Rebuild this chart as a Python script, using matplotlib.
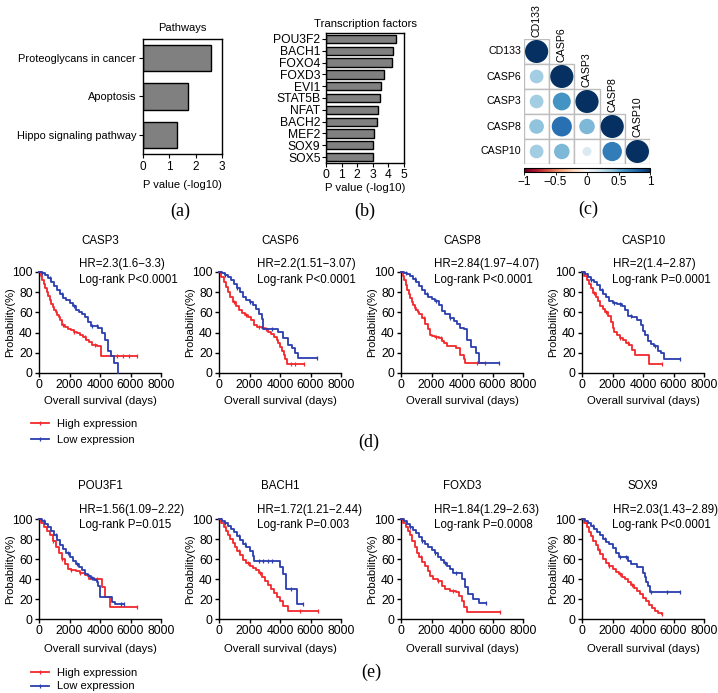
import numpy as np
import matplotlib
matplotlib.use('Agg')
import matplotlib.pyplot as plt
from matplotlib.patches import Circle, Rectangle
from matplotlib.lines import Line2D
from matplotlib import colors, colorbar

plt.rcParams['font.family'] = ['Liberation Sans', 'DejaVu Sans']
plt.rcParams['axes.linewidth'] = 1.0

# ---- data -------------------------------------------------------------
pathways = ['Proteoglycans in cancer', 'Apoptosis', 'Hippo signaling pathway']
pathway_p = [2.6, 1.7, 1.3]

tfs = ['POU3F2', 'BACH1', 'FOXO4', 'FOXD3', 'EVI1', 'STAT5B', 'NFAT',
       'BACH2', 'MEF2', 'SOX9', 'SOX5']
tf_p = [4.5, 4.3, 4.25, 3.75, 3.55, 3.45, 3.35, 3.3, 3.1, 3.0, 3.0]

corr_genes = ['CD133', 'CASP6', 'CASP3', 'CASP8', 'CASP10']
corr_lower = [[1.0],
              [0.35, 1.0],
              [0.35, 0.6, 1.0],
              [0.4, 0.75, 0.45, 1.0],
              [0.35, 0.45, 0.15, 0.7, 1.0]]

# survival curves: (days, survival %) step knots
casp3_high = ([0, 100, 200, 300, 400, 500, 600, 700, 800, 900, 1000, 1100, 1200, 1300, 1400, 1500,
               1700, 1900, 2100, 2300, 2500, 2700, 2900, 3100, 3300, 3500, 3800, 4050, 6450],
              [100, 96, 92, 88, 84, 80, 76, 72, 68, 65, 62, 60, 57, 55, 52, 48,
               46, 44, 43, 41, 40, 38, 36, 33, 31, 28, 27, 17, 17])
casp3_low = ([0, 200, 400, 600, 800, 1000, 1200, 1400, 1600, 1800, 2000, 2200, 2400, 2600, 2800,
              3000, 3200, 3400, 3900, 4100, 4300, 4500, 4700, 4900, 5150],
             [100, 99, 97, 94, 90, 86, 82, 78, 74, 72, 69, 66, 62, 60, 58,
              55, 50, 47, 45, 40, 33, 22, 17, 10, 0])
casp6_high = ([0, 150, 300, 450, 600, 750, 900, 1100, 1300, 1500, 1700, 1900, 2100, 2300, 2500,
               2800, 3000, 3200, 3400, 3600, 3800, 3900, 4000, 4150, 4250, 4350, 4450, 5550],
              [100, 95, 90, 85, 80, 75, 70, 66, 62, 59, 57, 55, 52, 48, 46,
               45, 44, 41, 39, 36, 33, 30, 26, 22, 18, 14, 9, 9])
casp6_low = ([0, 200, 400, 600, 800, 1000, 1200, 1400, 1600, 1800, 2000, 2200, 2400, 2600, 2800,
              2900, 3900, 4200, 4500, 4800, 5000, 5200, 6450],
             [100, 99, 97, 95, 92, 88, 84, 80, 75, 72, 70, 67, 63, 58, 53,
              44, 41, 35, 28, 25, 20, 15, 15])
casp8_high = ([0, 100, 200, 300, 400, 500, 600, 700, 800, 900, 1000, 1100, 1200, 1400, 1600,
               1800, 1900, 2000, 2200, 2500, 2700, 2800, 3000, 3300, 3600, 3900, 4100, 4200, 5500],
              [100, 96, 92, 87, 82, 78, 74, 70, 67, 64, 62, 60, 58, 54, 49,
               44, 38, 37, 36, 35, 32, 30, 27, 27, 25, 18, 14, 10, 10])
casp8_low = ([0, 200, 400, 600, 800, 1000, 1200, 1400, 1600, 1800, 2000, 2200, 2500, 2700, 2900,
              3200, 3500, 3700, 3900, 4100, 4300, 4600, 4900, 5100, 6450],
             [100, 99, 98, 96, 93, 90, 86, 82, 78, 75, 73, 71, 67, 61, 58,
              54, 51, 49, 45, 44, 33, 26, 20, 10, 10])
casp10_high = ([0, 150, 300, 450, 600, 750, 900, 1050, 1200, 1350, 1500, 1700, 1900, 2000, 2100,
                2300, 2500, 2700, 2900, 3100, 3300, 3500, 4400, 5250],
               [100, 96, 92, 88, 84, 79, 75, 71, 66, 63, 60, 56, 50, 45, 41,
                38, 35, 33, 30, 28, 23, 18, 9, 9])
casp10_low = ([0, 200, 400, 600, 800, 1000, 1200, 1400, 1600, 1800, 2000, 2300, 2600, 2800, 3000,
               3300, 3600, 3900, 4000, 4100, 4300, 4500, 4700, 5000, 5200, 5400, 6450],
              [100, 98, 95, 92, 90, 87, 82, 78, 75, 71, 69, 68, 66, 62, 56,
               55, 52, 48, 42, 38, 32, 29, 27, 22, 20, 14, 14])
pou3f1_high = ([0, 150, 300, 500, 700, 900, 1100, 1300, 1500, 1700, 1900, 2100, 2400, 2700, 3000,
                3300, 4100, 4300, 4650, 6450],
               [100, 96, 92, 88, 84, 78, 72, 66, 60, 55, 50, 49, 48, 46, 44,
                40, 32, 22, 12, 12])
pou3f1_low = ([0, 200, 400, 600, 800, 1000, 1200, 1400, 1600, 1800, 2000, 2200, 2400, 2600, 2800,
               3000, 3200, 3400, 3600, 3800, 3900, 4000, 4800, 5000, 5550],
              [100, 98, 95, 92, 88, 84, 79, 74, 70, 66, 62, 58, 55, 52, 49,
               45, 43, 41, 39, 37, 33, 22, 17, 15, 15])
bach1_high = ([0, 150, 300, 450, 600, 750, 900, 1050, 1200, 1400, 1600, 1800, 2000, 2200, 2400,
               2600, 2800, 3000, 3200, 3400, 3600, 3800, 4000, 4200, 4500, 6500],
              [100, 96, 92, 88, 84, 80, 76, 72, 68, 64, 59, 56, 53, 51, 49,
               46, 42, 38, 34, 30, 26, 22, 18, 13, 8, 8])
bach1_low = ([0, 200, 400, 600, 800, 1000, 1200, 1400, 1600, 1800, 2000, 2200, 2300, 4000, 4200,
              4400, 5100, 5500],
             [100, 98, 96, 93, 90, 87, 83, 79, 75, 72, 68, 63, 58, 52, 45,
              30, 15, 15])
foxd3_high = ([0, 150, 300, 450, 600, 750, 900, 1050, 1200, 1400, 1600, 1800, 1900, 2100, 2400,
               2700, 2900, 3200, 3600, 3800, 4000, 4150, 4300, 6500],
              [100, 96, 92, 88, 84, 78, 72, 66, 62, 57, 53, 48, 43, 40, 38,
               33, 30, 28, 27, 23, 18, 12, 7, 7])
foxd3_low = ([0, 200, 400, 600, 800, 1000, 1200, 1400, 1600, 1800, 2000, 2200, 2400, 2600, 2800,
              3000, 3200, 3400, 4000, 4200, 4400, 4700, 5100, 5550],
             [100, 98, 95, 92, 89, 86, 82, 78, 75, 72, 69, 66, 62, 59, 56,
              53, 50, 46, 40, 32, 25, 20, 16, 16])
sox9_high = ([0, 150, 300, 450, 600, 750, 900, 1050, 1200, 1400, 1600, 1800, 2000, 2200, 2400,
              2600, 2800, 3000, 3200, 3400, 3600, 3800, 4000, 4200, 4400, 4600, 4800, 5000, 5250],
             [100, 96, 92, 87, 83, 78, 74, 69, 65, 60, 56, 53, 50, 47, 45,
              42, 40, 37, 34, 31, 28, 25, 21, 18, 14, 11, 8, 6, 5])
sox9_low = ([0, 200, 400, 600, 800, 1000, 1200, 1400, 1600, 1800, 2000, 2200, 2400, 2800, 3000,
             3200, 3600, 4000, 4100, 4200, 4300, 4450, 6450],
            [100, 98, 96, 93, 90, 87, 84, 80, 77, 75, 71, 66, 62, 62, 58,
             55, 52, 46, 42, 37, 33, 27, 27])

# censored times
cens_high = {'CASP3': [1600, 2300, 3000, 3700, 5100, 5500, 5900, 6450],
             'CASP6': [1000, 1800, 2600, 3100, 4700, 5000, 5550],
             'CASP8': [900, 1500, 2300, 2600, 5000, 5500],
             'CASP10': [800, 1600, 2500, 3000, 5250],
             'POU3F1': [900, 1500, 2100, 2700, 3800, 6450],
             'BACH1': [1300, 1900, 2700, 5300, 6500],
             'FOXD3': [1300, 2400, 3400, 6500],
             'SOX9': [1100, 1800, 2500, 3300, 5250]}
cens_low = {'CASP3': [200, 700, 1500, 2300, 3500, 3800],
            'CASP6': [400, 1200, 2000, 3500, 6450],
            'CASP8': [300, 900, 1700, 2300, 3200, 6450],
            'CASP10': [600, 1300, 2100, 2500, 3200, 4800, 6450],
            'POU3F1': [300, 1100, 1900, 2500, 3500, 5400, 5550],
            'BACH1': [400, 1300, 1700, 2600, 2900, 3200, 3500, 4700, 5500],
            'FOXD3': [600, 1400, 2200, 2900, 3600, 5550],
            'SOX9': [700, 1500, 2500, 2900, 4500, 5600, 6450]}

genes_d = ['CASP3', 'CASP6', 'CASP8', 'CASP10']
hr_d = ['HR=2.3(1.6\u22123.3)', 'HR=2.2(1.51\u22123.07)', 'HR=2.84(1.97\u22124.07)', 'HR=2(1.4\u22122.87)']
p_d = ['Log-rank P<0.0001', 'Log-rank P<0.0001', 'Log-rank P<0.0001', 'Log-rank P=0.0001']
curves_d = [(casp3_high, casp3_low), (casp6_high, casp6_low),
            (casp8_high, casp8_low), (casp10_high, casp10_low)]

genes_e = ['POU3F1', 'BACH1', 'FOXD3', 'SOX9']
hr_e = ['HR=1.56(1.09\u22122.22)', 'HR=1.72(1.21\u22122.44)', 'HR=1.84(1.29\u22122.63)', 'HR=2.03(1.43\u22122.89)']
p_e = ['Log-rank P=0.015', 'Log-rank P=0.003', 'Log-rank P=0.0008', 'Log-rank P<0.0001']
curves_e = [(pou3f1_high, pou3f1_low), (bach1_high, bach1_low),
            (foxd3_high, foxd3_low), (sox9_high, sox9_low)]

# ---- layout helpers ----------------------------------------------------
W, H = 718, 693
RED = '#f2282c'
BLUE = '#2a3eae'
FS = 8.3


def px(l, t, r, b):
    return [l / W, 1 - b / H, (r - l) / W, (b - t) / H]


fig = plt.figure(figsize=(W / 100, H / 100), dpi=100)

# ---- (a) pathways ------------------------------------------------------
ax = fig.add_axes(px(143, 39, 222, 154))
ax.barh(range(len(pathways)), pathway_p, height=0.68, color='#808080',
        edgecolor='black', linewidth=1.0)
ax.set_yticks(range(len(pathways)))
ax.set_yticklabels(pathways, fontsize=7.7)
ax.set_ylim(2.5, -0.5)
ax.set_xlim(0, 3)
ax.set_xticks([0, 1, 2, 3])
ax.tick_params(labelsize=8.5, length=3, width=0.8, pad=2)
ax.tick_params(axis='y', labelsize=7.9)
ax.set_title('Pathways', fontsize=8, pad=6)
ax.set_xlabel('P value (-log10)', fontsize=8, labelpad=5)

# ---- (b) transcription factors -----------------------------------------
ax = fig.add_axes(px(326, 33, 404, 163))
ax.barh(range(len(tfs)), tf_p, height=0.7, color='#808080',
        edgecolor='black', linewidth=1.0)
ax.set_yticks(range(len(tfs)))
ax.set_yticklabels(tfs)
ax.set_ylim(len(tfs) - 0.5, -0.5)
ax.set_xlim(0, 5)
ax.set_xticks(range(6))
ax.tick_params(labelsize=8.7, length=3, width=0.8, pad=1)
ax.set_title('Transcription factors', fontsize=8.2, pad=4)
ax.set_xlabel('P value (-log10)', fontsize=8.2, labelpad=2)

# ---- (c) correlation ---------------------------------------------------
ax = fig.add_axes(px(524, 39, 650, 164))
cmap = plt.get_cmap('RdBu')
norm = colors.Normalize(-1, 1)
n = len(corr_genes)
for i, row in enumerate(corr_lower):
    for j, r in enumerate(row):
        ax.add_patch(Rectangle((j, i), 1, 1, facecolor='white',
                               edgecolor='#bdbdbd', linewidth=1.0))
        ax.add_patch(Circle((j + 0.5, i + 0.5), 0.46 * np.sqrt(abs(r)),
                            facecolor=cmap(norm(r)), edgecolor='none'))
    ax.text(-0.12, i + 0.5, corr_genes[i], ha='right', va='center', fontsize=7.7)
    ax.text(i + 0.5, i - 0.08, corr_genes[i], ha='center', va='bottom',
            rotation=90, fontsize=7.7)
ax.set_xlim(0, n)
ax.set_ylim(n, 0)
ax.axis('off')

cax = fig.add_axes(px(524, 168, 650, 172))
cb = colorbar.ColorbarBase(cax, cmap=cmap, norm=norm, orientation='horizontal',
                           ticks=[-1, -0.5, 0, 0.5, 1])
cb.ax.tick_params(labelsize=8.5, length=2, width=0.6, pad=1)
cb.outline.set_linewidth(0.8)
cb.ax.set_xticklabels(['\u22121', '\u22120.5', '0', '0.5', '1'])


# ---- KM panels ---------------------------------------------------------
def km_panel(rect, gene, high, low, hr, pval, text_x, title_y, hr_y, p_y, xl_y):
    ax = fig.add_axes(rect)
    for (t, s), cens, col in ((high, cens_high[gene], RED), (low, cens_low[gene], BLUE)):
        t = np.asarray(t)
        s = np.asarray(s)
        ax.step(t, s, where='post', color=col, lw=1.3, clip_on=False, zorder=3)
        c = np.asarray(cens)
        idx = np.searchsorted(t, c, side='right') - 1
        ax.plot(c, s[idx], ls='none', marker='|', ms=3.5, mew=0.9, color=col,
                clip_on=False, zorder=3)
    ax.set_xlim(0, 8000)
    ax.set_ylim(0, 100)
    ax.set_xticks([0, 2000, 4000, 6000, 8000])
    ax.set_yticks([0, 20, 40, 60, 80, 100])
    for side in ('top', 'right'):
        ax.spines[side].set_visible(False)
    ax.tick_params(labelsize=8.8, length=3, width=1.0, pad=1.5)
    ax.set_ylabel('Probability(%)', fontsize=8)
    ax.yaxis.set_label_coords(-24 / 122, 0.5)
    ax.set_xlabel('Overall survival (days)', fontsize=8.2, va='center')
    ax.xaxis.set_label_coords(0.5, xl_y)
    ax.text(0.5, title_y, gene, transform=ax.transAxes, ha='center', va='center', fontsize=FS)
    ax.text(text_x, hr_y, hr, transform=ax.transAxes, ha='left', va='center', fontsize=FS)
    ax.text(text_x, p_y, pval, transform=ax.transAxes, ha='left', va='center', fontsize=FS)
    return ax


lefts = [39, 219, 401, 582]
text_xs = [0.33, 0.31, 0.27, 0.25]

for k in range(4):
    km_panel(px(lefts[k], 272, lefts[k] + 122, 373), genes_d[k], curves_d[k][0], curves_d[k][1],
             hr_d[k], p_d[k], text_xs[k], (373 - 241) / 101, (373 - 264) / 101,
             (373 - 280) / 101, -(401 - 373) / 101)
    km_panel(px(lefts[k], 519, lefts[k] + 122, 619), genes_e[k], curves_e[k][0], curves_e[k][1],
             hr_e[k], p_e[k], text_xs[k], (619 - 486) / 100, (619 - 510) / 100,
             (619 - 525) / 100, -(649 - 619) / 100)

# legends
for top, spacing in ((418, 0.55), (667, 0.3)):
    fig.legend([Line2D([0, 0.5, 1], [0, 0, 0], color=RED, lw=1.3, marker='|', ms=3.5,
                       mew=0.9, markevery=[1]),
                Line2D([0, 0.5, 1], [0, 0, 0], color=BLUE, lw=1.3, marker='|', ms=3.5,
                       mew=0.9, markevery=[1])],
               ['High expression', 'Low expression'], loc='upper left',
               bbox_to_anchor=(30 / W, 1 - top / H), frameon=False, fontsize=8,
               handlelength=1.6, handletextpad=0.7, labelspacing=spacing,
               borderpad=0.1, borderaxespad=0)

# panel letters
for lab, x, y in (('(a)', 180, 211), ('(b)', 365, 211), ('(c)', 588, 209),
                  ('(d)', 369, 442), ('(e)', 371, 672)):
    fig.text(x / W, 1 - y / H, lab, ha='center', va='center', fontsize=13,
             family=['Liberation Serif', 'DejaVu Serif'])

fig.savefig('out.png', dpi=100)
